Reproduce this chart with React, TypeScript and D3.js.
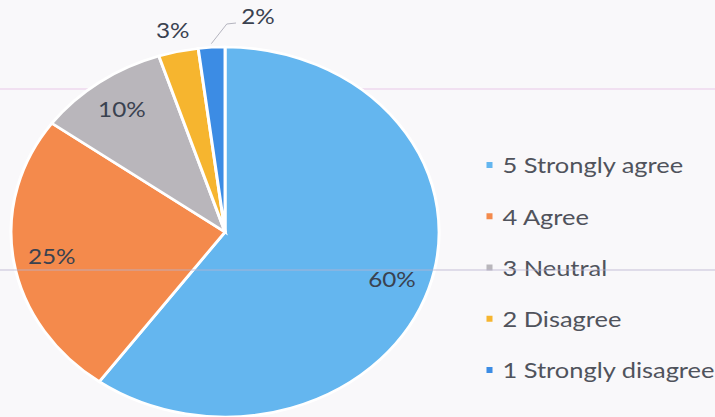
import React from "react";
import * as d3 from "d3";

const categories = ["5 Strongly agree", "4 Agree", "3 Neutral", "2 Disagree", "1 Strongly disagree"];
const values = [60, 25, 10, 3, 2];
const labels = ["60%", "25%", "10%", "3%", "2%"];
const colors = ["#64B6EF", "#F48A4C", "#B9B6BB", "#F6B52F", "#3C8CE4"];

const W = 715;
const H = 417;
const SX = 1.157; // horizontal stretch of the photographed chart

export default function App() {
  const cx = 194.5;
  const cy = 232;
  const r = 185;
  const pie = d3.pie<number>().sort(null).startAngle(0).endAngle(2 * Math.PI);
  const arcs = pie(values);
  const arc = d3.arc<d3.PieArcDatum<number>>().innerRadius(0).outerRadius(r);
  const fontFamily = "Lato, 'Open Sans', sans-serif";

  const labelPos = (d: d3.PieArcDatum<number>, i: number) => {
    const mid = (d.startAngle + d.endAngle) / 2;
    const f = d.data >= 10 ? 0.82 : 1.12;
    let x = Math.sin(mid) * r * f;
    let y = -Math.cos(mid) * r * f;
    if (i === 4) {
      x = 28.5;
      y = -216;
    }
    return [x, y];
  };

  const legendY = d3.scaleLinear().domain([0, categories.length - 1]).range([165, 370]);

  return (
    <svg
      width={W}
      height={H}
      style={{ position: "absolute", left: 0, top: 0, display: "block" }}
      fontFamily={fontFamily}
    >
      <rect width={W} height={H} fill="#F9F8FA" />
      <line x1={0} x2={W} y1={89} y2={89} stroke="#EED9EE" strokeWidth={1.5} />
      <g transform={`scale(${SX},1)`}>
        <g transform={`translate(${cx},${cy})`}>
          {arcs.map((d, i) => (
            <path key={i} d={arc(d) || ""} fill={colors[i]} stroke="#FFFFFF" strokeWidth={2.6} />
          ))}
          {arcs.map((d, i) => {
            const [x, y] = labelPos(d, i);
            return (
              <text
                key={"l" + i}
                x={x}
                y={y}
                textAnchor="middle"
                dominantBaseline="central"
                fontSize={21}
                fill="#3A4250"
              >
                {labels[i]}
              </text>
            );
          })}
          {(() => {
            const d = arcs[4];
            const mid = (d.startAngle + d.endAngle) / 2;
            const x0 = Math.sin(mid) * r * 1.02;
            const y0 = -Math.cos(mid) * r * 1.02;
            return (
              <polyline
                points={`${x0},${y0} ${1.5},${-208} ${9.5},${-209}`}
                fill="none"
                stroke="#A9A9B4"
                strokeWidth={0.8}
              />
            );
          })()}
        </g>
        {categories.map((c, i) => (
          <g key={"g" + i} transform={`translate(${489.5 / SX},${legendY(i)})`}>
            <rect x={-2.6} y={-3} width={5.2} height={6} fill={colors[i]} />
            <text x={13 / SX} y={0} dominantBaseline="central" fontSize={22} fill="#50535C">
              {c}
            </text>
          </g>
        ))}
      </g>
      <line x1={0} x2={W} y1={270} y2={270} stroke="#B9B3CF" strokeWidth={1} opacity={0.8} />
    </svg>
  );
}
